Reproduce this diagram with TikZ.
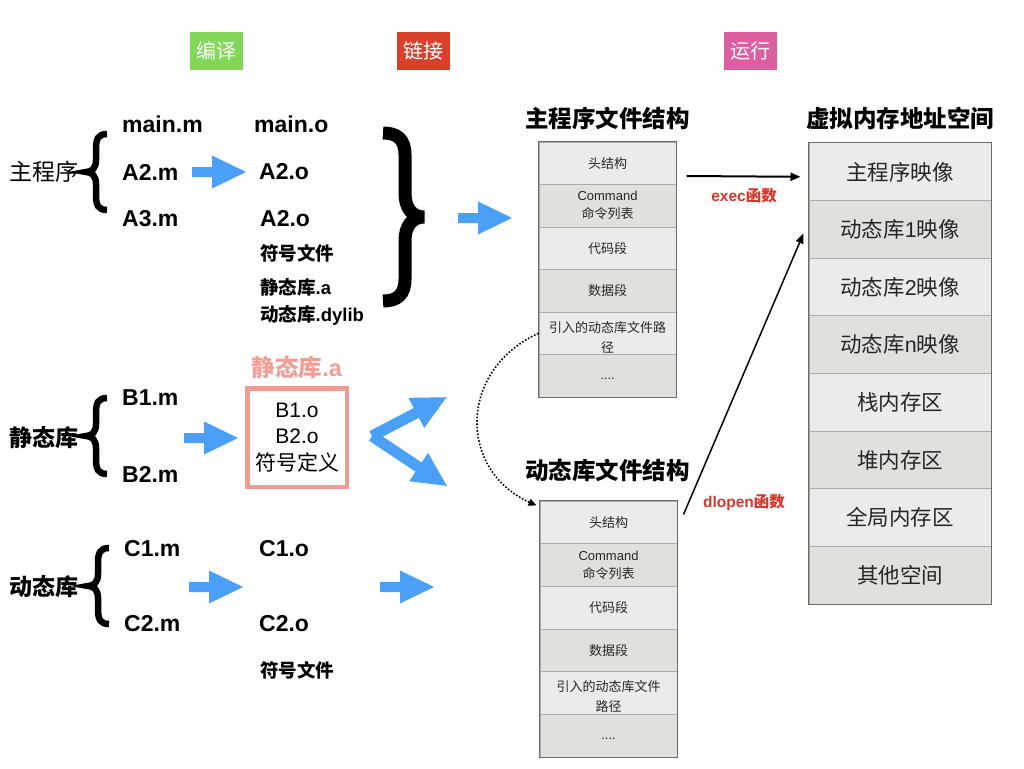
\documentclass[tikz,border=0pt]{standalone}
\usepackage{fontspec}
\setmainfont{Liberation Sans}
\newfontfamily\cjk{Noto Sans CJK SC}
\newcommand\cj[1]{{\cjk #1}}
\usetikzlibrary{arrows.meta}
\definecolor{ablue}{HTML}{4A9FF6}
\definecolor{tgreen}{HTML}{82D75A}
\definecolor{tred}{HTML}{D9402C}
\definecolor{tpink}{HTML}{DD5FA2}
\definecolor{pinkbox}{HTML}{EF9B91}
\definecolor{pinktext}{HTML}{F19F96}
\definecolor{redlabel}{HTML}{D9362A}
\definecolor{cellline}{HTML}{ABABAB}
\definecolor{boxline}{HTML}{6A6A6A}
\definecolor{cA}{HTML}{EBEBEB}
\definecolor{cB}{HTML}{E1E0DC}
\tikzset{
  tag/.style={minimum width=53pt, minimum height=37pt, inner sep=0, text=white, font=\fontsize{20}{24}\selectfont\cjk},
  src/.style={anchor=west, inner sep=0, font=\fontsize{23}{27}\selectfont\bfseries},
  small/.style={anchor=west, inner sep=0, font=\fontsize{18.5}{22}\selectfont\bfseries},
  grp/.style={anchor=west, inner sep=0, font=\fontsize{23}{27}\selectfont\cjk},
  title/.style={inner sep=0, font=\fontsize{23.5}{28}\selectfont\cjk\bfseries},
  cell/.style={draw=cellline, line width=1pt, minimum width=137pt, inner sep=0, align=center, font=\fontsize{13}{18}\selectfont\cjk, text=black!85},
  mcell/.style={draw=cellline, line width=1pt, minimum width=182pt, minimum height=57.625pt, inner sep=0, font=\fontsize{21.5}{26}\selectfont\cjk, text=black!85},
  boxline/.style={draw=boxline, line width=1.3pt},
  redlab/.style={inner sep=0, text=redlabel, font=\fontsize{15.5}{18}\selectfont\bfseries},
  thinarrow/.style={-{Triangle[length=10pt,width=8pt]}},
  pics/fat/.style={code={\fill[ablue] (0,-5) -- (20,-5) -- (20,-16.5) -- (54,0) -- (20,16.5) -- (20,5) -- (0,5) -- cycle;}},
  pics/fork/.style={code={\fill[ablue] (0,-5.5) -- (#1-34,-5.5) -- (#1-34,-17) -- (#1,0) -- (#1-34,17) -- (#1-34,5.5) -- (0,5.5) -- cycle;}},
  pics/lbrace/.style={code={\draw[line width=6.5pt] (21,-38) .. controls (12,-38) and (10,-33) .. (10,-23) -- (10,-12) .. controls (10,-4) and (6,0) .. (0,0) .. controls (6,0) and (10,4) .. (10,12) -- (10,23) .. controls (10,33) and (12,38) .. (21,38);}},
  pics/rbrace/.style={code={\draw[line width=13pt] (-41,-84) .. controls (-27,-84) and (-19,-78) .. (-19,-62) -- (-19,-24) .. controls (-19,-9) and (-12,0) .. (0,0) .. controls (-12,0) and (-19,9) .. (-19,24) -- (-19,62) .. controls (-19,78) and (-27,84) .. (-41,84);}}
}
\begin{document}
\begin{tikzpicture}[x=1pt,y=-1pt]
\useasboundingbox[fill=white] (0,0) rectangle (1024,768);
% stage tags
\node[tag, fill=tgreen] (t1) at (216.5,51) {编译};
\node[tag, fill=tred] (t2) at (423.5,51) {链接};
\node[tag, fill=tpink] (t3) at (750.5,51) {运行};
% group labels
\node[grp] (g1) at (9,172) {主程序};
\node[grp, font=\fontsize{23}{27}\selectfont\cjk\bfseries] (g2) at (9,438) {静态库};
\node[grp, font=\fontsize{23}{27}\selectfont\cjk\bfseries] (g3) at (9,587) {动态库};
\pic at (86,172) {lbrace};
\pic at (86,436) {lbrace};
\pic at (88,586) {lbrace};
% main program
\node[src] (a1) at (122,124) {main.m};
\node[src] (a2) at (122,172) {A2.m};
\node[src] (a3) at (122,219) {A3.m};
\node[src] (o1) at (254,124) {main.o};
\node[src] (o2) at (259,172) {A2.o};
\node[src] (o3) at (260,219) {A2.o};
\node[small] (o4) at (260,253) {\cj{符号文件}};
\node[small] (o5) at (260,287) {\cj{静态库}.a};
\node[small] (o6) at (260,315) {\cj{动态库}.dylib};
\pic at (192,172) {fat};
\pic at (424,217) {rbrace};
\pic at (458,218) {fat};
% static library
\node[src] (b1) at (122,398) {B1.m};
\node[src] (b2) at (122,474) {B2.m};
\pic at (184,438) {fat};
\node[draw=pinkbox, line width=4.5pt, minimum width=99.5pt, minimum height=98.5pt, inner sep=0, align=center, font=\fontsize{21}{26.5}\selectfont] (sbox) at (297,437.5) {B1.o\\B2.o\\\cj{符号定义}};
\node[inner sep=0, text=pinktext, font=\fontsize{23.5}{28}\selectfont\bfseries] (slab) at (297,367) {\cj{静态库}.a};
\pic[rotate=27.5] at (372,436) {fork=84};
\pic[rotate=-33.7] at (372,436) {fork=90};
% dynamic library
\node[src] (c1) at (124,549) {C1.m};
\node[src] (c2) at (124,624) {C2.m};
\node[src] (co1) at (259,549) {C1.o};
\node[src] (co2) at (259,624) {C2.o};
\node[small] (co3) at (260,670) {\cj{符号文件}};
\pic at (189,587) {fat};
\pic at (380,587) {fat};
% titles
\node[title] (h1) at (607.5,118) {主程序文件结构};
\node[title] (h2) at (900,118) {虚拟内存地址空间};
\node[title] (h3) at (607.5,470) {动态库文件结构};
% main program structure
\node[cell, fill=cA, minimum height=42.5pt] (m1) at (607.5,163.25) {头结构};
\node[cell, fill=cB, minimum height=42.5pt] (m2) at (607.5,205.75) {{\rmfamily Command}\\命令列表};
\node[cell, fill=cA, minimum height=42.5pt] (m3) at (607.5,248.25) {代码段};
\node[cell, fill=cB, minimum height=42.5pt] (m4) at (607.5,290.75) {数据段};
\node[cell, fill=cA, minimum height=42.5pt] (m5) at (607.5,333.25) {};
\node[inner sep=0, align=center, font=\fontsize{13}{20}\selectfont\cjk, text=black!85] (m5t) at (607.5,337.5) {引入的动态库文件路\\径};
\node[cell, fill=cB, minimum height=42.5pt] (m6) at (607.5,375.75) {{\rmfamily\strut ....}};
\draw[boxline] (m1.north west) rectangle (m6.south east);
% dynamic library structure
\node[cell, fill=cA, minimum height=42.67pt] (d1) at (608.5,522.33) {头结构};
\node[cell, fill=cB, minimum height=42.67pt] (d2) at (608.5,565) {{\rmfamily Command}\\命令列表};
\node[cell, fill=cA, minimum height=42.67pt] (d3) at (608.5,607.67) {代码段};
\node[cell, fill=cB, minimum height=42.67pt] (d4) at (608.5,650.33) {数据段};
\node[cell, fill=cA, minimum height=42.67pt] (d5) at (608.5,693) {};
\node[inner sep=0, align=center, font=\fontsize{13}{20}\selectfont\cjk, text=black!85] (d5t) at (608.5,697) {引入的动态库文件\\路径};
\node[cell, fill=cB, minimum height=42.67pt] (d6) at (608.5,735.67) {{\rmfamily\strut ....}};
\draw[boxline] (d1.north west) rectangle (d6.south east);
% virtual memory
\node[mcell, fill=cA] (v1) at (900,171.81) {主程序映像};
\node[mcell, fill=cB] (v2) at (900,229.44) {动态库{\rmfamily 1}映像};
\node[mcell, fill=cA] (v3) at (900,287.06) {动态库{\rmfamily 2}映像};
\node[mcell, fill=cB] (v4) at (900,344.69) {动态库{\rmfamily n}映像};
\node[mcell, fill=cA] (v5) at (900,402.31) {栈内存区};
\node[mcell, fill=cB] (v6) at (900,459.94) {堆内存区};
\node[mcell, fill=cA] (v7) at (900,517.56) {全局内存区};
\node[mcell, fill=cB] (v8) at (900,575.19) {其他空间};
\draw[boxline] (v1.north west) rectangle (v8.south east);
% connectors
\draw[line width=2pt, thinarrow] ([shift={(10,-9)}]m1.south east) -- ([shift={(-8,5)}]v1.west);
\node[redlab] (ex) at (744,196) {exec\cj{函数}};
\draw[line width=1.5pt, thinarrow] ([shift={(6,14)}]d1.north east) -- ([shift={(-5,4)}]v2.west);
\node[redlab] (dl) at (744,502) {dlopen\cj{函数}};
\draw[line width=1.6pt, dash pattern=on 1.6pt off 1.8pt, -{Triangle[length=8pt,width=7pt]}] (m5.west) .. controls (458,370) and (458,470) .. ([shift={(-3,5)}]d1.north west);
\end{tikzpicture}
\end{document}
